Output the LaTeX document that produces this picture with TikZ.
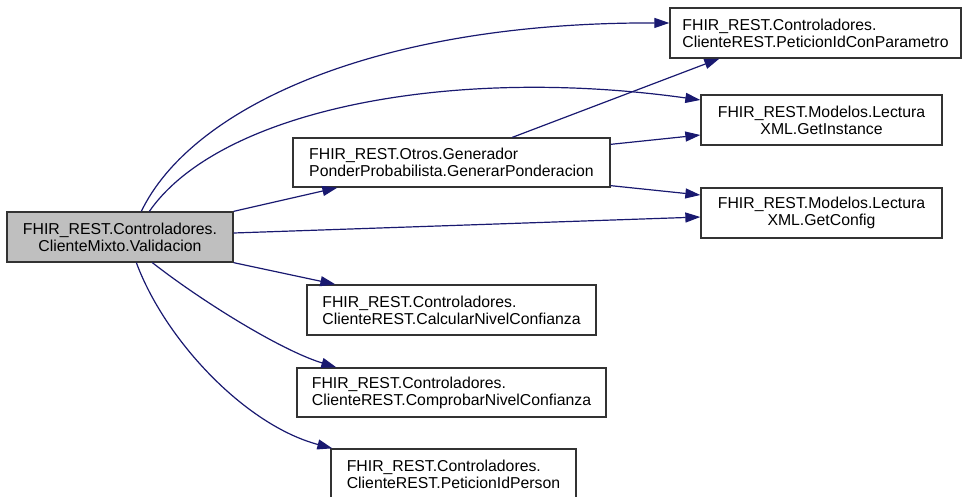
\documentclass[tikz,border=0pt]{standalone}
\usepackage{fontspec}
\setmainfont{Liberation Sans}
\usetikzlibrary{arrows.meta}
\definecolor{edgeblue}{HTML}{191970}
\definecolor{boxgray}{HTML}{BFBFBF}
\definecolor{boxline}{HTML}{333333}
\begin{document}
\begin{tikzpicture}[x=1pt,y=-1pt,
  fnbox/.style={draw=boxline, line width=1.3pt, fill=white, rectangle, inner sep=0pt,
    font=\fontsize{15.8}{17}\selectfont},
  callarrow/.style={draw=edgeblue, line width=1.2pt,
    -{Triangle[length=15pt,width=10pt]}}]
\useasboundingbox (0,0) rectangle (963,497);

% functions
\node[fnbox, fill=boxgray, align=center, minimum width=226pt, minimum height=50pt] (A) at (120,237)
  {FHIR\_REST.Controladores.\\ClienteMixto.Validacion};
\node[fnbox, align=left, minimum width=317pt, minimum height=49pt] (B) at (451.5,162.5)
  {FHIR\_REST.Otros.Generador\\PonderProbabilista.GenerarPonderacion};
\node[fnbox, align=left, minimum width=291pt, minimum height=50pt] (C) at (815.5,33)
  {FHIR\_REST.Controladores.\\ClienteREST.PeticionIdConParametro};
\node[fnbox, align=center, minimum width=241pt, minimum height=50pt] (D) at (821.5,120)
  {FHIR\_REST.Modelos.Lectura\\XML.GetInstance};
\node[fnbox, align=center, minimum width=241pt, minimum height=50pt] (E) at (821.5,213)
  {FHIR\_REST.Modelos.Lectura\\XML.GetConfig};
\node[fnbox, align=left, minimum width=289pt, minimum height=50pt] (F) at (451.5,310)
  {FHIR\_REST.Controladores.\\ClienteREST.CalcularNivelConfianza};
\node[fnbox, align=left, minimum width=309pt, minimum height=49pt] (G) at (451.5,392.5)
  {FHIR\_REST.Controladores.\\ClienteREST.ComprobarNivelConfianza};
\node[fnbox, align=left, minimum width=245pt, minimum height=50pt] (H) at (453.5,474)
  {FHIR\_REST.Controladores.\\ClienteREST.PeticionIdPerson};

% calls
\draw[callarrow] ([xshift=135pt]A.north west) .. controls (190,110) and (370,22) .. ([yshift=10pt]C.west);
\draw[callarrow] ([xshift=143pt]A.north west) .. controls (220,110) and (450,65) .. ([yshift=20pt]D.west);
\draw[callarrow] (A.north east) -- ([xshift=45pt]B.south west);
\draw[callarrow] ([yshift=4pt]A.east) -- ([yshift=-4pt]E.west);
\draw[callarrow] (A.south east) -- ([xshift=29pt]F.north west);
\draw[callarrow] ([xshift=146pt]A.south west) .. controls (200,300) and (280,350) .. ([xshift=40pt]G.north west);
\draw[callarrow] ([xshift=130pt]A.south west) .. controls (165,340) and (245,425) .. ([xshift=2pt]H.north west);
\draw[callarrow] ([xshift=220pt]B.north west) -- ([xshift=50pt]C.south west);
\draw[callarrow] ([yshift=-7pt]B.north east) -- ([yshift=-15pt]D.west);
\draw[callarrow] ([yshift=2pt]B.south east) -- ([yshift=18pt]E.west);
\end{tikzpicture}
\end{document}
